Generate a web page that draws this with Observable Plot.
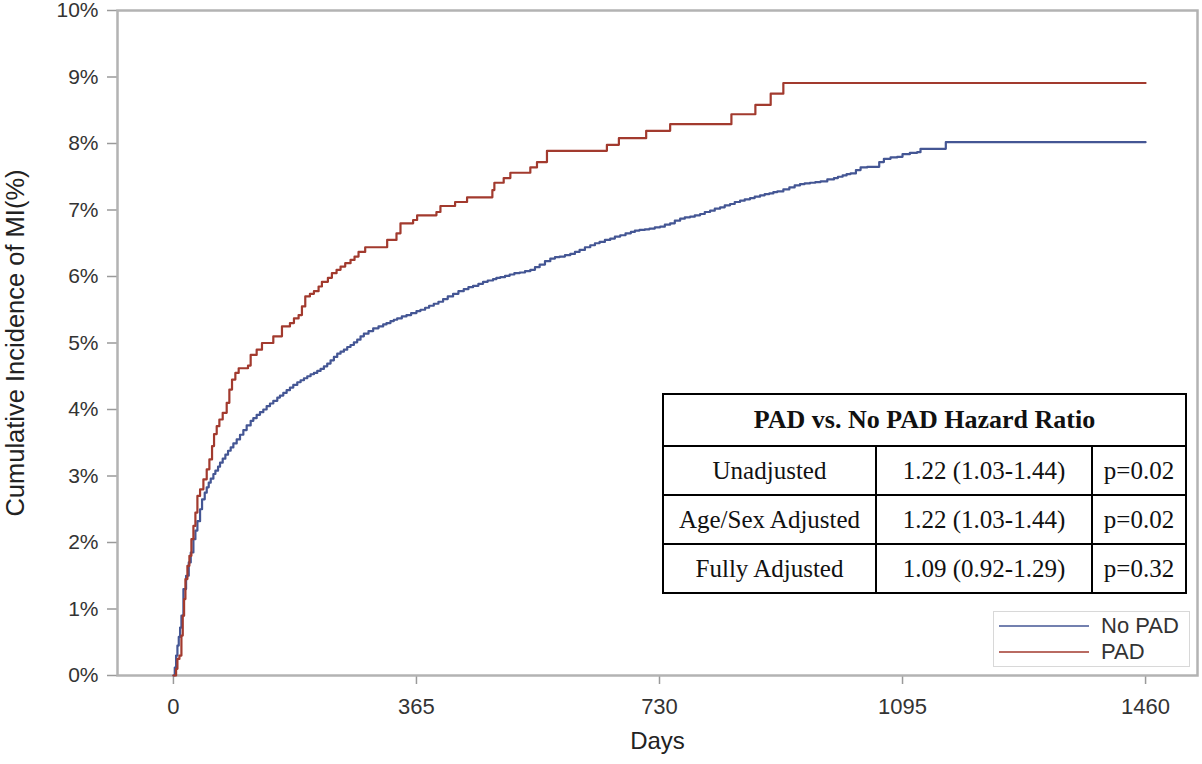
<!DOCTYPE html>
<html>
<head>
<meta charset="utf-8">
<script src="https://cdn.jsdelivr.net/npm/d3@7"></script>
<script src="https://cdn.jsdelivr.net/npm/@observablehq/plot@0.6"></script>
<style>
  html, body { margin: 0; padding: 0; background: #fff; }
  #wrap { position: relative; width: 1202px; height: 764px; overflow: hidden; }
  #wrap svg { position: absolute; left: 0; top: 0; }
  #legend { position: absolute; left: 993px; top: 611px; width: 197px; height: 56px;
    border: 1px solid #d8d8d8; background: #fff; box-sizing: border-box;
    font-family: "Liberation Sans", Arial, sans-serif; font-size: 22px; color: #333; }
  #legend .item { position: absolute; left: 0; height: 26px; display: flex; align-items: center; }
  #legend .sw { display: inline-block; width: 90px; height: 0; margin-left: 5px; margin-right: 12px; }
  #hr { position: absolute; left: 662px; top: 393px; width: 525px; height: 201px;
    border-collapse: collapse; font-family: "Liberation Serif", "Times New Roman", serif;
    font-size: 25px; color: #111; background: #fff; }
  #hr td { border: 2px solid #000; text-align: center; padding: 0; }
  #hr td.h { font-weight: bold; font-size: 26px; height: 50px; }
</style>
</head>
<body>
<div id="wrap"></div>
<script>
// Kaplan-Meier style cumulative incidence (%), step-after
const padDays = [0,4,6,9,12,14,16,18,21,24,27,30,33,36,40,45,50,54,58,61,65,69,74,80,84,88,93,98,112,116,125,133,150,163,175,181,188,193,198,205,211,218,223,232,238,245,251,258,266,272,278,288,321,335,341,360,366,395,401,423,441,479,482,496,506,536,546,561,651,669,710,746,838,874,897,916,1460];
const padPct  = [0,0.1,0.25,0.3,0.6,0.9,1.15,1.45,1.65,1.8,2.05,2.25,2.45,2.7,2.8,2.95,3.1,3.25,3.45,3.63,3.75,3.85,3.95,4.1,4.3,4.45,4.55,4.62,4.66,4.82,4.9,5.0,5.1,5.25,5.3,5.37,5.42,5.55,5.7,5.74,5.78,5.85,5.92,5.98,6.05,6.1,6.15,6.2,6.25,6.3,6.37,6.44,6.55,6.65,6.8,6.85,6.92,6.97,7.06,7.12,7.19,7.3,7.41,7.48,7.56,7.64,7.72,7.89,7.98,8.08,8.19,8.29,8.44,8.58,8.75,8.91,8.91];

const noPadDays = [0,2,4,6,8,10,12,15,19,23,26,30,33,36,40,43,47,50,53,56,60,63,67,70,74,78,82,86,90,95,100,105,110,116,120,125,130,135,140,145,150,156,160,165,170,175,180,186,191,196,201,206,211,216,221,226,231,236,241,246,251,256,261,266,271,276,281,286,293,300,308,315,320,326,331,336,343,350,357,365,371,378,384,391,398,405,412,420,428,436,443,450,458,465,472,480,485,491,498,505,512,520,528,536,543,550,558,566,573,580,588,596,603,610,618,626,633,640,648,656,663,671,679,687,693,700,708,715,723,731,738,746,753,761,768,776,783,791,798,806,813,821,828,836,843,851,858,866,873,881,888,895,901,907,916,925,933,941,948,956,964,972,982,992,998,1005,1011,1017,1025,1032,1042,1052,1060,1067,1077,1087,1095,1106,1117,1122,1160,1460];
const noPadPct  = [0,0.12,0.3,0.45,0.58,0.72,0.9,1.3,1.5,1.7,1.85,2.05,2.18,2.32,2.5,2.65,2.75,2.83,2.9,2.96,3.03,3.08,3.14,3.2,3.26,3.32,3.38,3.43,3.49,3.55,3.62,3.69,3.76,3.83,3.87,3.92,3.96,4.0,4.05,4.09,4.13,4.18,4.21,4.25,4.29,4.33,4.37,4.41,4.44,4.47,4.5,4.53,4.55,4.58,4.61,4.65,4.69,4.74,4.79,4.84,4.87,4.9,4.94,4.97,5.01,5.05,5.1,5.14,5.18,5.22,5.25,5.28,5.3,5.33,5.35,5.37,5.4,5.42,5.45,5.48,5.5,5.53,5.56,5.59,5.62,5.66,5.7,5.74,5.78,5.81,5.84,5.86,5.89,5.92,5.94,5.96,5.98,5.99,6.01,6.03,6.05,6.06,6.08,6.1,6.14,6.18,6.23,6.27,6.29,6.3,6.32,6.34,6.37,6.4,6.44,6.47,6.5,6.52,6.55,6.57,6.6,6.62,6.65,6.67,6.69,6.7,6.71,6.72,6.74,6.75,6.78,6.8,6.84,6.87,6.89,6.9,6.92,6.94,6.97,6.99,7.02,7.04,7.07,7.09,7.12,7.14,7.16,7.18,7.2,7.22,7.24,7.25,7.27,7.28,7.31,7.34,7.37,7.39,7.4,7.41,7.42,7.43,7.46,7.48,7.5,7.52,7.54,7.55,7.6,7.64,7.65,7.65,7.72,7.77,7.79,7.8,7.84,7.86,7.87,7.92,8.02,8.02];

const groups = ["No PAD", "PAD"];
const groupColors = ["#445694", "#A23A2E"];
const xTicks = [0, 365, 730, 1095, 1460];
const yTicks = [0,1,2,3,4,5,6,7,8,9,10];

const tableHeader = "PAD vs. No PAD Hazard Ratio";
const tableModels = ["Unadjusted", "Age/Sex Adjusted", "Fully Adjusted"];
const tableHR = ["1.22 (1.03-1.44)", "1.22 (1.03-1.44)", "1.09 (0.92-1.29)"];
const tableP = ["p=0.02", "p=0.02", "p=0.32"];

const rows = [
  ...noPadDays.map((d, i) => ({group: "No PAD", day: d, pct: noPadPct[i]})),
  ...padDays.map((d, i) => ({group: "PAD", day: d, pct: padPct[i]}))
];

const font = "'Liberation Sans', Arial, sans-serif";
const chart = Plot.plot({
  width: 1202, height: 764,
  marginLeft: 117, marginRight: 5, marginTop: 10, marginBottom: 89,
  style: {fontFamily: font, background: "#fff", overflow: "visible"},
  x: {domain: [-84, 1538]},
  y: {domain: [0, 10]},
  color: {domain: groups, range: groupColors},
  marks: [
    Plot.axisX({ticks: xTicks, tickFormat: d => String(d), tickSize: 9, tickPadding: 14, label: null, fontSize: 22, fill: "#333", stroke: "#9a9a9a", strokeWidth: 1.5}),
    Plot.axisY({ticks: yTicks, tickFormat: d => d + "%", tickSize: 10, tickPadding: 9, label: null, fontSize: 21, fill: "#333", stroke: "#9a9a9a", strokeWidth: 1.5}),
    Plot.frame({stroke: "#b3b3b3", strokeWidth: 2.5}),
    Plot.line(rows, {x: "day", y: "pct", z: "group", stroke: "group", curve: "step-after", strokeWidth: 2.2}),
    Plot.text(["Days"], {frameAnchor: "bottom", dy: 73, fontSize: 24, fill: "#222"}),
    Plot.text(["Cumulative Incidence of MI(%)"], {frameAnchor: "left", textAnchor: "middle", rotate: -90, dx: -102, fontSize: 25.5, fill: "#222"})
  ]
});
const wrap = document.getElementById("wrap");
wrap.appendChild(chart);

// hazard ratio table
const tbl = document.createElement("table");
tbl.id = "hr";
let html = `<tr><td class="h" colspan="3">${tableHeader}</td></tr>`;
tableModels.forEach((m, i) => {
  html += `<tr><td style="width:211px">${m}</td><td style="width:214px">${tableHR[i]}</td><td>${tableP[i]}</td></tr>`;
});
tbl.innerHTML = html;
wrap.appendChild(tbl);

// legend
const leg = document.createElement("div");
leg.id = "legend";
groups.forEach((g, i) => {
  const it = document.createElement("div");
  it.className = "item";
  it.style.top = (1 + i * 26) + "px";
  it.innerHTML = `<span class="sw" style="border-top:2px solid ${groupColors[i]};opacity:0.75"></span><span>${g}</span>`;
  leg.appendChild(it);
});
wrap.appendChild(leg);
</script>
</body>
</html>
